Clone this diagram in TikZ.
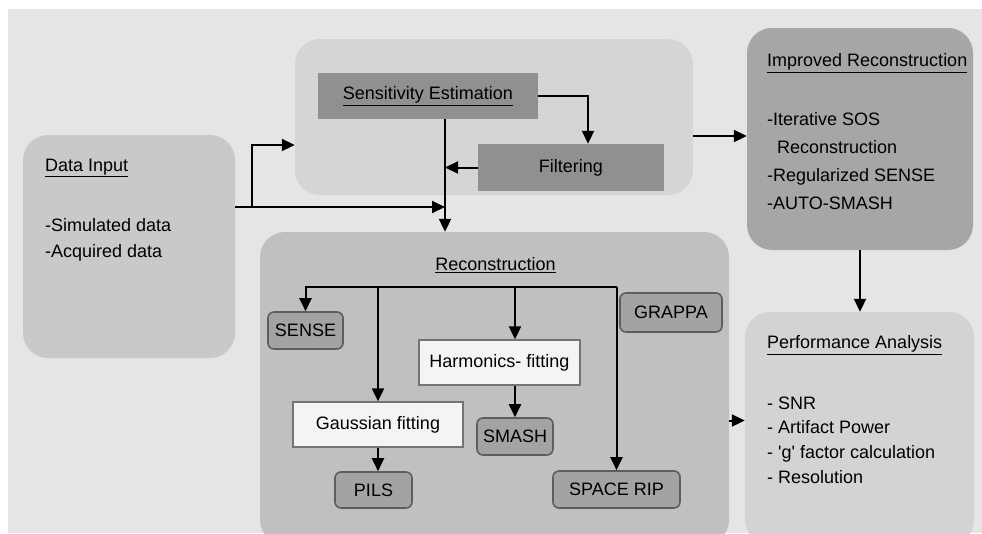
\documentclass[tikz,border=0pt]{standalone}
\usepackage{fontspec}
\setmainfont{Liberation Sans}
\usetikzlibrary{arrows.meta}
\definecolor{bg}{HTML}{E5E5E5}
\definecolor{inputgray}{HTML}{C9C9C9}
\definecolor{groupgray}{HTML}{D5D5D5}
\definecolor{bardark}{HTML}{909090}
\definecolor{impgray}{HTML}{A6A6A6}
\definecolor{recongray}{HTML}{C0C0C0}
\definecolor{perfgray}{HTML}{D3D3D3}
\definecolor{methodfill}{HTML}{A3A3A3}
\definecolor{edge}{HTML}{5E5E5E}
\definecolor{edgelight}{HTML}{747474}
\definecolor{fitwhite}{HTML}{F4F4F4}

\begin{document}
\begin{tikzpicture}[x=1pt, y=-1pt, font=\fontsize{18}{22}\selectfont,
	panel/.style={rounded corners=25pt, inner sep=0pt},
	bar/.style={fill=bardark, inner sep=0pt},
	method/.style={draw=edge, line width=1.6pt, fill=methodfill, rounded corners=6pt, inner sep=0pt},
	fitbox/.style={draw=edgelight, line width=1.3pt, fill=fitwhite, inner sep=0pt},
	txt/.style={inner sep=0pt, anchor=west, align=left},
	arr/.style={-{Triangle[length=13pt,width=12pt]}, line width=2pt}]
	\useasboundingbox (0,0) rectangle (982,533);
	\clip (0,0) rectangle (982,533);
	\fill[white] (0,0) rectangle (982,533);
	\fill[bg] (8,9) rectangle (982,533);

	\node[panel, fill=inputgray, minimum width=212pt, minimum height=223pt] (input) at (129,246.5) {};
	\node[panel, fill=groupgray, minimum width=398pt, minimum height=156pt] (sensgrp) at (494,117) {};
	\node[panel, fill=impgray, minimum width=226pt, minimum height=222pt] (imp) at (860,139) {};
	\node[panel, fill=recongray, minimum width=469pt, minimum height=313pt] (recon) at (494.5,388.5) {};
	\node[panel, fill=perfgray, minimum width=229pt, minimum height=233pt] (perf) at (859.5,428.5) {};

	\node[bar, minimum width=220pt, minimum height=46pt] (sens) at (428,96) {\underline{Sensitivity Estimation}};
	\node[bar, minimum width=186pt, minimum height=47pt] (filt) at (571,167.5) {Filtering};

	\node[txt] (inputtitle) at (45,168) {\underline{Data Input}};
	\node[txt, font=\fontsize{18}{26}\selectfont] (inputlist) at (45,240) {-Simulated data\\-Acquired data};
	\node[txt] (imptitle) at (767,63) {\underline{Improved Reconstruction}};
	\node[txt, font=\fontsize{18}{28}\selectfont] (implist) at (767,161) {-Iterative SOS\\\hspace*{10pt}Reconstruction\\-Regularized SENSE\\-AUTO-SMASH};
	\node[inner sep=0pt] (recontitle) at (495.5,265) {\underline{Reconstruction}};
	\node[txt] (perftitle) at (767,345) {\underline{Performance Analysis}};
	\node[txt, font=\fontsize{18}{24.7}\selectfont] (perflist) at (767,440) {- SNR\\- Artifact Power\\- \textquotesingle g\textquotesingle\ factor calculation\\- Resolution};

	\node[method, minimum width=75pt, minimum height=37pt] (sense) at (305.5,330.5) {SENSE};
	\node[fitbox, minimum width=170pt, minimum height=45pt] (gauss) at (378,424.5) {Gaussian fitting};
	\node[method, minimum width=77pt, minimum height=36pt] (pils) at (373.5,490) {PILS};
	\node[fitbox, minimum width=161pt, minimum height=45pt] (harm) at (499.5,362.5) {Harmonics- fitting};
	\node[method, minimum width=76pt, minimum height=37pt] (smash) at (515,436.5) {SMASH};
	\node[method, minimum width=102pt, minimum height=39pt] (grappa) at (671,312.5) {GRAPPA};
	\node[method, minimum width=127pt, minimum height=37pt] (rip) at (616.5,489.5) {SPACE RIP};

	\coordinate (mid) at (445,207);
	\coordinate (fork) at (252,207);
	\coordinate (tree) at (0,287);

	\draw[arr] (input.east |- mid) -- (mid);
	\draw[arr] (fork) |- ([yshift=-28pt]sensgrp.west);
	\draw[arr] (sens.south -| mid) -- (mid |- recon.north);
	\draw[arr] (sens.east) -| ([xshift=17pt]filt.north);
	\draw[arr] (filt.west) -- (filt.west -| mid);
	\draw[arr] ([yshift=-19pt]sensgrp.east) -- ([yshift=-19pt]sensgrp.east -| imp.west);
	\draw[arr] (imp.south) -- (imp.south |- perf.north);
	\draw[arr] ([yshift=-32pt]recon.east) -- ([yshift=-32pt]recon.east -| perf.west);

	\draw[arr] (rip.north |- tree) -| (sense.north);
	\foreach \n in {gauss,rip}
		\draw[arr] (\n.north |- tree) -- (\n.north);
	\draw[arr] (smash.north |- tree) -- (smash.north |- harm.north);
	\draw[arr] (smash.north |- harm.south) -- (smash.north);
	\draw[arr] (gauss.south) -- (gauss.south |- pils.north);
\end{tikzpicture}
\end{document}
